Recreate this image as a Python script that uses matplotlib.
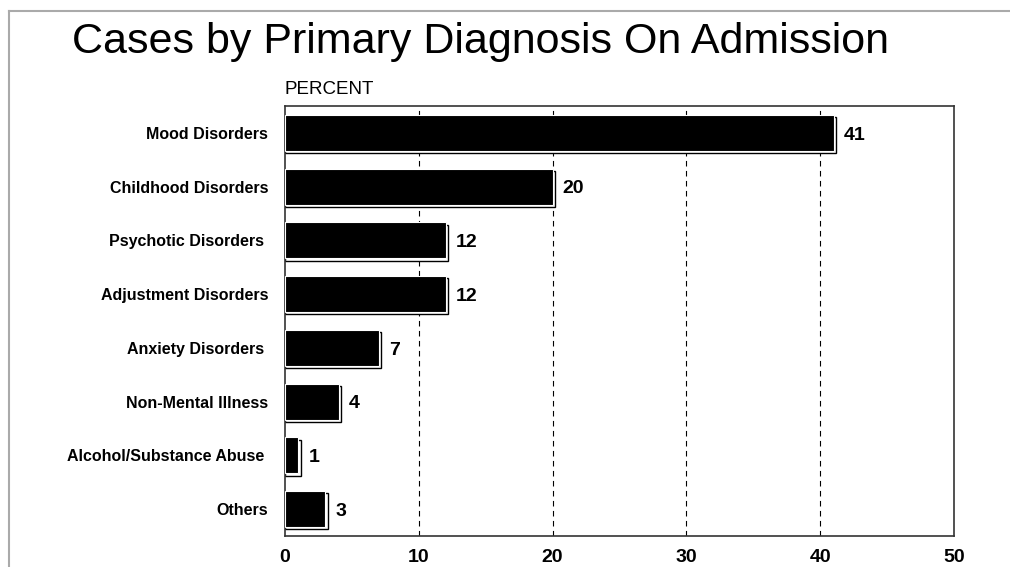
import matplotlib.pyplot as plt
from matplotlib.lines import Line2D
import numpy as np

categories = ['Mood Disorders', 'Childhood Disorders', 'Psychotic Disorders ',
              'Adjustment Disorders', 'Anxiety Disorders ', 'Non-Mental Illness',
              'Alcohol/Substance Abuse ', 'Others']
percent = [41, 20, 12, 12, 7, 4, 1, 3]
xticks = [0, 10, 20, 30, 40, 50]

plt.rcParams['font.family'] = ['Liberation Sans', 'DejaVu Sans']

W, H = 1010, 567
fig = plt.figure(figsize=(W / 100, H / 100), dpi=100)
ax = fig.add_axes([285 / W, 1 - 536 / H, (954 - 285) / W, (536 - 106) / H])

y = np.arange(len(categories))
h = 0.67
# shadow outline, offset a little right/down
ax.barh(y + 0.04, np.array(percent) + 0.2, height=h, facecolor='white',
        edgecolor='black', linewidth=1.0, zorder=2)
ax.barh(y, percent, height=h, color='black', edgecolor='white', linewidth=0.8, zorder=3)

for yi, v in zip(y, percent):
    ax.text(v + 0.75, yi + 0.04, str(v), va='center', ha='left', fontsize=14,
            fontweight='bold', zorder=4)

ax.set_xlim(0, 50)
ax.set_ylim(len(categories) - 0.5, -0.5)
ax.set_xticks(xticks)
ax.set_xticklabels([str(t) for t in xticks], fontsize=14, fontweight='bold')
ax.set_yticks(y)
ax.set_yticklabels(categories, fontsize=11.5, fontweight='bold')
ax.tick_params(axis='x', length=0, pad=9)
ax.tick_params(axis='y', length=0, pad=12)
for t in xticks[1:-1]:
    ax.axvline(t, color='black', linestyle=(0, (5, 4)), linewidth=0.8, zorder=1)
for s in ax.spines.values():
    s.set_color('#333333')
    s.set_linewidth(1.2)

fig.text(72 / W, 1 - 42 / H, 'Cases by Primary Diagnosis On Admission',
         fontsize=31, va='center', ha='left')
fig.text(284 / W, 1 - 90 / H, 'PERCENT', fontsize=13.5, va='center', ha='left')

# partial gray frame around the figure
fig.add_artist(Line2D([8.5 / W, 1], [1 - 10.5 / H, 1 - 10.5 / H],
                      color='#aaaaaa', linewidth=1.5, transform=fig.transFigure))
fig.add_artist(Line2D([8.5 / W, 8.5 / W], [0, 1 - 10.5 / H],
                      color='#aaaaaa', linewidth=1.5, transform=fig.transFigure))

fig.savefig('out.png', dpi=100)
